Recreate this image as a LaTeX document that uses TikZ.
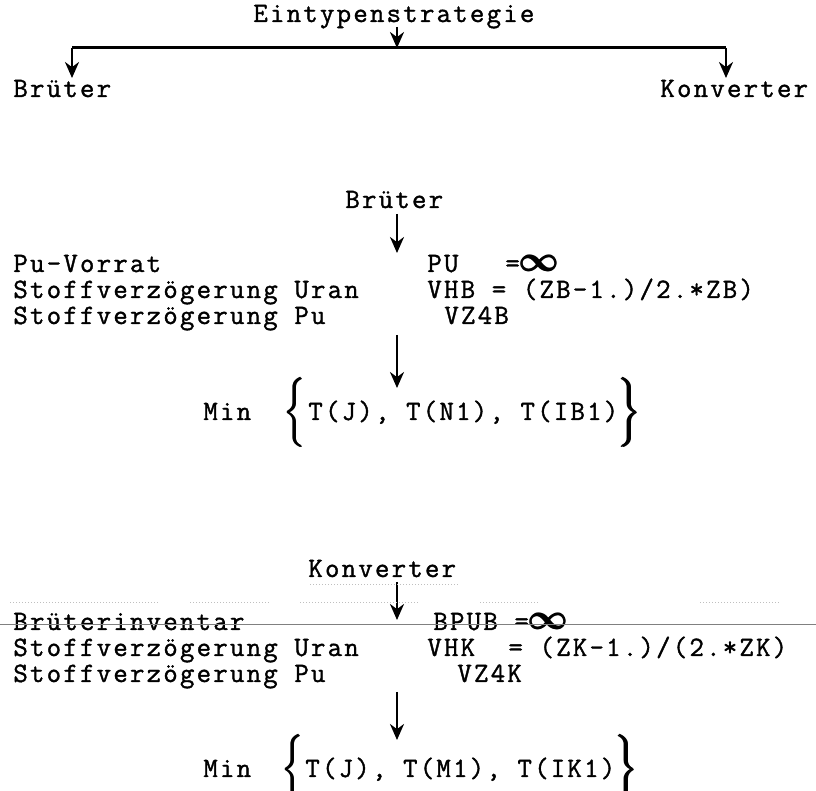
\documentclass[tikz,border=0pt]{standalone}
\usepackage{amsmath}
\usepackage{fontspec}
\setmonofont[LetterSpace=8, FakeBold=1.3]{Latin Modern Mono}
\usetikzlibrary{arrows.meta}

\newcommand{\infsym}{{\fontsize{19}{19}\selectfont\pmb{$\boldsymbol{\infty}$}}}
\newcommand{\lbig}{\pmb{$\bigg\{$}}
\newcommand{\rbig}{\pmb{$\bigg\}$}}

\tikzset{
    txt/.style = {anchor=base west, inner sep=0pt, font=\fontsize{14}{16}\selectfont\ttfamily},
    brc/.style = {anchor=base west, inner sep=0pt, font=\fontsize{15}{15}\selectfont},
    arr/.style = {line width=1.3pt, -{Stealth[length=8pt, width=7pt]}},
    bar/.style = {line width=1.5pt},
    scan/.style = {gray, line width=0.5pt}
}

\begin{document}
\begin{tikzpicture}[x=0.5pt, y=-0.5pt]
        \useasboundingbox (0, 0) rectangle (816, 791);

        \node[txt] (eintyp) at (253, 22) {Eintypenstrategie};
        \node[txt] (brL) at (13, 97) {Brüter};
        \node[txt] (konR) at (660, 97) {Konverter};
        \coordinate (split) at (397, 48);
        \coordinate (cornL) at (72, 48);
        \coordinate (cornR) at (726, 48);
        \coordinate (tipL) at (72, 78);
        \coordinate (tipR) at (726, 78);
        \draw[arr] ([yshift=-2.5pt]eintyp.base -| split) -- (split);
        \draw[bar] (cornL) -- (cornR);
        \draw[arr] (cornL) -- (tipL);
        \draw[arr] (cornR) -- (tipR);

        % Brueter
        \node[txt] (brT) at (345, 208) {Brüter};
        \node[txt] (puV) at (13, 272) {Pu-Vorrat};
        \node[txt] (stUB) at (13, 298) {Stoffverzögerung Uran};
        \node[txt] (stPB) at (13, 324) {Stoffverzögerung Pu};
        \node[txt] (pu) at (427, 272) {PU};
        \node[txt] (puinf) at (505, 272) {=\infsym};
        \node[txt] (vhb) at (427, 298) {VHB = (ZB-1.)/2.*ZB)};
        \node[txt] (vz4b) at (444, 324) {VZ4B};
        \coordinate (b1) at (397, 253);
        \coordinate (b2) at (397, 388);
        \draw[arr] ([yshift=-3pt]brT.base -| b1) -- (b1);
        \draw[arr] ([yshift=-5.5pt]stPB.base -| b2) -- (b2);

        \node[txt] (minB) at (203, 420) {Min};
        \node[brc] (lbrB) at (284, 420) {\lbig};
        \node[txt] (setB) at (308, 420) {T(J), T(N1), T(IB1)};
        \node[brc] (rbrB) at (setB.base east) {\rbig};

        % Konverter
        \node[txt] (konT) at (308, 577) {Konverter};
        \node[txt] (brInv) at (13, 630) {Brüterinventar};
        \node[txt] (stUK) at (13, 656) {Stoffverzögerung Uran};
        \node[txt] (stPK) at (13, 682) {Stoffverzögerung Pu};
        \node[txt] (bpub) at (433, 630) {BPUB =\infsym};
        \node[txt] (vhk) at (427, 656) {VHK~ = (ZK-1.)/(2.*ZK)};
        \node[txt] (vz4k) at (457, 682) {VZ4K};
        \coordinate (k1) at (397, 620);
        \coordinate (k2) at (397, 740);
        \draw[arr] ([yshift=-2.5pt]konT.base -| k1) -- (k1);
        \draw[arr] ([yshift=-5pt]stPK.base -| k2) -- (k2);

        \node[txt] (minK) at (203, 777) {Min};
        \node[brc] (lbrK) at (282, 777) {\lbig};
        \node[txt] (setK) at (305, 777) {T(J), T(M1), T(IK1)};
        \node[brc] (rbrK) at (setK.base east) {\rbig};

        % Kopierspuren
        \draw[scan] (0, 625) -- (816, 625);
        \draw[scan, gray!50, densely dotted] (310, 585) -- (460, 585);
        \foreach \a/\b in {10/160, 190/270, 300/420, 480/540, 700/780}
            \draw[scan, gray!50, densely dotted] (\a, 603) -- (\b, 603);
    \end{tikzpicture}
\end{document}
